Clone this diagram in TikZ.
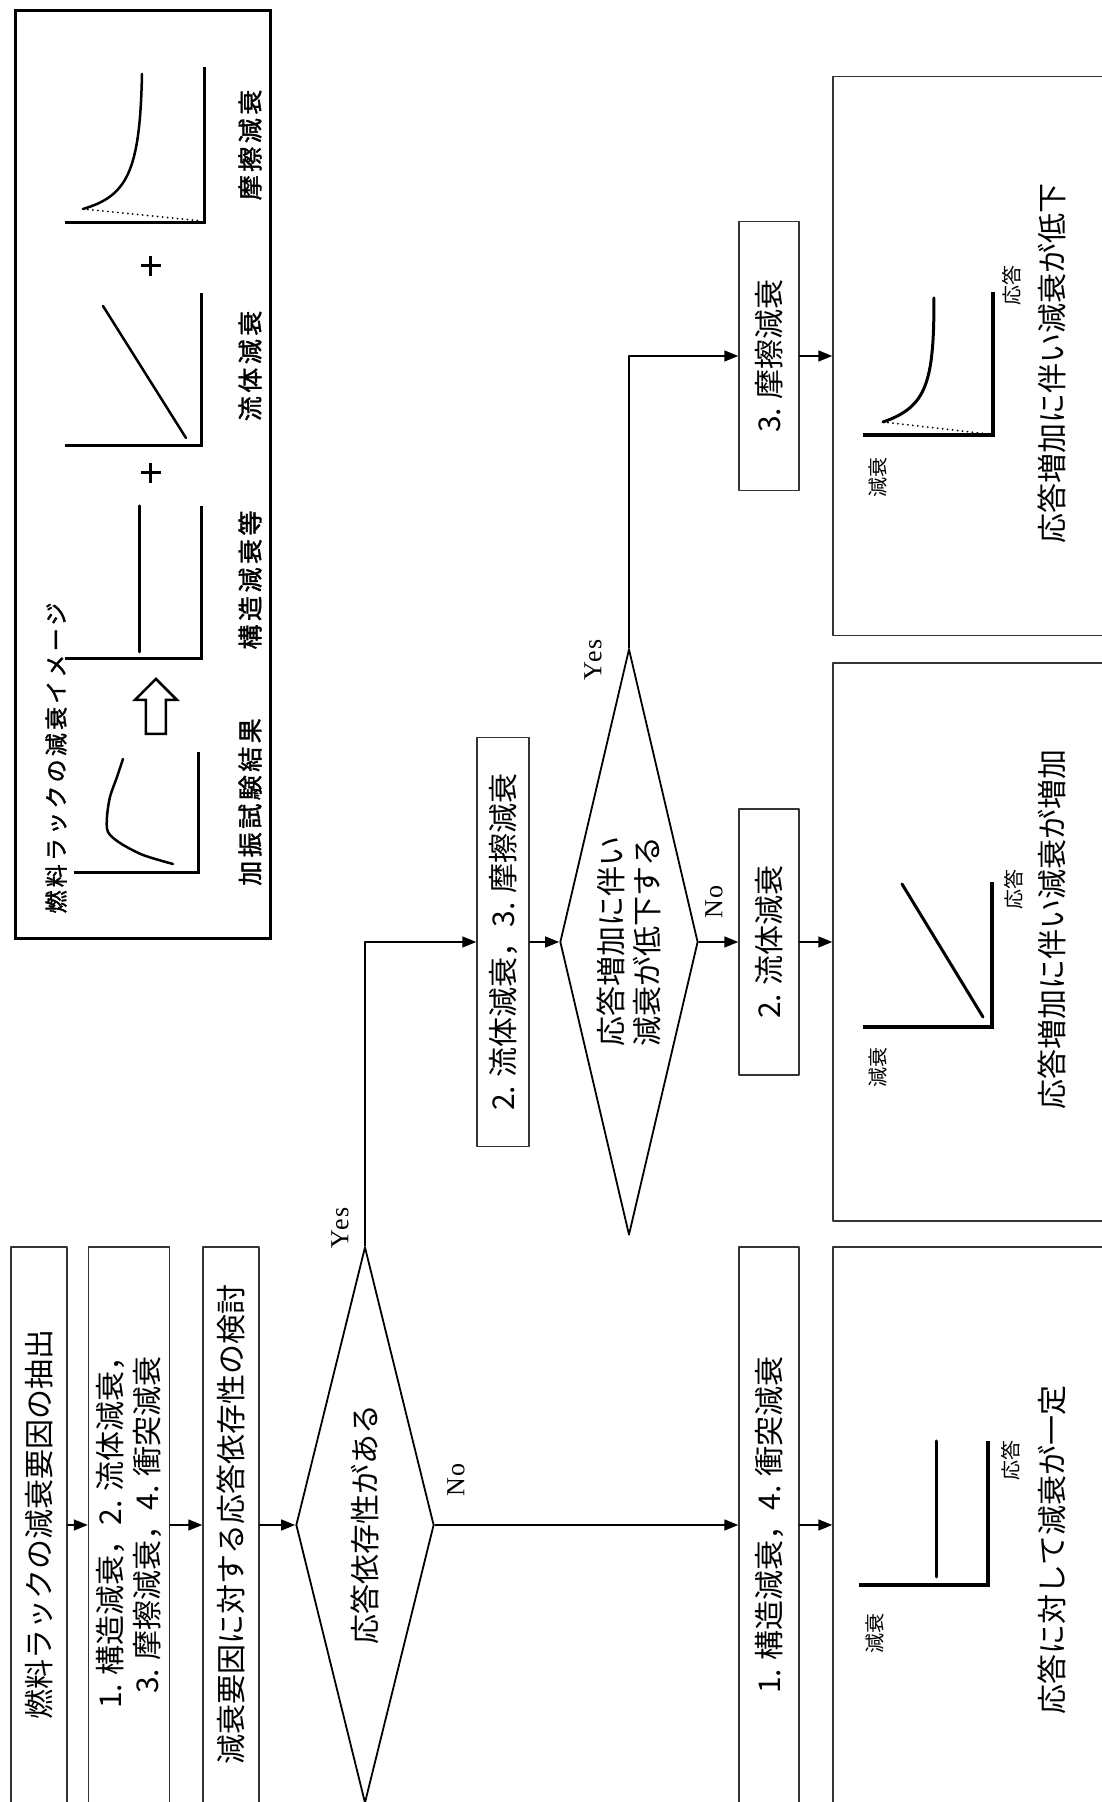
\documentclass[tikz,border=0pt]{standalone}
\usepackage{fontspec}
\setmainfont{Noto Sans CJK JP}
\newfontfamily\gothic[LetterSpace=14, FakeBold=1.6]{Noto Sans CJK JP}
\newfontfamily\yesnofont[LetterSpace=8]{Liberation Serif}
\usetikzlibrary{shapes.geometric,arrows.meta}

\begin{document}
\begin{tikzpicture}[x=1pt, y=1pt, rotate=90, transform shape,
		line cap=round, line join=round, >={Triangle[length=14pt, width=11pt]},
		box/.style={draw=black!80, line width=1.4pt, rectangle, inner sep=0pt, align=center, font=\fontsize{30}{37}\selectfont},
		decision/.style={draw, line width=1.8pt, diamond, aspect=4, inner sep=0pt, align=center, font=\fontsize{30}{36}\selectfont},
		panel/.style={draw=black!80, line width=1.4pt, rectangle, inner sep=0pt},
		flow/.style={->, line width=1.5pt},
		yesno/.style={font=\yesnofont\fontsize{26}{26}\selectfont},
		axis/.style={line width=3.5pt, line cap=butt, line join=miter},
		curve/.style={line width=3pt},
		dots/.style={line width=2pt, dash pattern=on 0pt off 5pt},
		axislabel/.style={font=\fontsize{20}{20}\selectfont},
		caption/.style={font=\fontsize{30}{30}\selectfont},
		legendtext/.style={font=\gothic\fontsize{25}{25}\selectfont}]
	% Page window, drawn lying down and turned a quarter
	\def\pw{1802} \def\ph{1102}
	\useasboundingbox (0,0) rectangle (\pw,\ph);
	\clip (0,0) rectangle (\pw,\ph);
	
	% Column centres of the three rows
	\def\xa{277} \def\xb{860} \def\xc{1446}
	
	% First row: extraction and check
	\node[box, minimum width=556pt, minimum height=56pt] (extract) at (\xa,1063) {燃料ラックの減衰要因の抽出};
	\node[box, minimum width=556pt, minimum height=81pt] (factors) at (\xa,973) {1. 構造減衰，2. 流体減衰，\\3. 摩擦減衰，4. 衝突減衰};
	\node[box, minimum width=556pt, minimum height=56pt] (study) at (\xa,871) {減衰要因に対する応答依存性の検討};
	\node[decision, minimum width=556pt, minimum height=138pt] (dep) at (\xa,737) {応答依存性がある};
	\node[box, minimum width=556pt, minimum height=60pt] (sc) at (\xa,333) {1. 構造減衰，4. 衝突減衰};
	\node[panel, minimum width=556pt, minimum height=282pt] (pconst) at (\xa,128) {};
	
	% Second row
	\node[box, minimum width=409pt, minimum height=52pt] (ff) at (\xb,599) {2. 流体減衰，3. 摩擦減衰};
	\node[decision, minimum width=586pt, minimum height=138pt] (dec) at (\xb,473) {応答増加に伴い\\減衰が低下する};
	\node[box, minimum width=266pt, minimum height=60pt] (fluid) at (\xb,333) {2. 流体減衰};
	\node[panel, minimum width=558pt, minimum height=282pt] (pfluid) at (\xb,128) {};
	
	% Third row
	\node[box, minimum width=269pt, minimum height=60pt] (fric) at (\xc,333) {3. 摩擦減衰};
	\node[panel, minimum width=559pt, minimum height=282pt] (pfric) at (\xc,128) {};
	
	% Connectors
	\draw[flow] (extract) -- (factors);
	\draw[flow] (factors) -- (study);
	\draw[flow] (study) -- (dep);
	\draw[flow] (dep.south) -- (sc.north);
	\draw[flow] (dep.east) -| (ff.north);
	\draw[flow] (ff) -- (dec);
	\draw[flow] (dec.south) -- (fluid.north);
	\draw[flow] (dec.east) -| (fric.north);
	\draw[flow] (sc) -- (pconst);
	\draw[flow] (fluid) -- (pfluid);
	\draw[flow] (fric) -- (pfric);
	
	% Yes / No labels
	\node[yesno] (yes1) at (574,762) {Yes};
	\node[yesno] (no1) at (322,646) {No};
	\node[yesno] (yes2) at (1142,509) {Yes};
	\node[yesno] (no2) at (900,388) {No};
	
	% Panel: damping constant
	\draw[axis] (217,243) -- (217,114) -- (361,114);
	\draw[curve] (225,165) -- (361,165);
	\node[axislabel] (dl1) at (168,227) {減衰};
	\node[axislabel] (rl1) at (341,91) {応答};
	\node[caption] (cap1) at (252,50) {応答に対して減衰が一定};
	
	% Panel: damping rises
	\draw[axis] (775,239) -- (775,110) -- (920,110);
	\draw[curve] (785,119) -- (918,200);
	\node[axislabel] (dl2) at (734,224) {減衰};
	\node[axislabel] (rl2) at (912,88) {応答};
	\node[caption] (cap2) at (872,50) {応答増加に伴い減衰が増加};
	
	% Panel: damping falls
	\draw[axis] (1367,239) -- (1367,109) -- (1510,109);
	\draw[curve] (1380,219) .. controls (1395,175) and (1420,168) .. (1504,168);
	\draw[dots] (1380,219) -- (1368,114);
	\node[axislabel] (dl3) at (1324,224) {減衰};
	\node[axislabel] (rl3) at (1516,90) {応答};
	\node[caption] (cap3) at (1438,50) {応答増加に伴い減衰が低下};
	
	% Legend frame and title
	\draw[line width=3pt, line join=miter] (863,831) rectangle (1791,1086);
	\node[legendtext, font=\gothic\fontsize{23}{23}\selectfont, anchor=west] (title) at (885,1046) {燃料ラックの減衰イメージ};
	
	% Test result
	\draw[axis, line width=3pt] (929,1028) -- (929,903) -- (1050,903);
	\draw[line width=2.5pt] plot[smooth] coordinates {(938,929) (947,959) (959,982) (970,994) (985,995) (1005,992) (1025,985) (1043,979)};
	\node[legendtext] (ltest) at (1000,852) {加振試験結果};
	\draw[line width=2.5pt, line join=miter] (1068,936) -- (1102,936) -- (1102,925) -- (1123,946) -- (1102,967) -- (1102,956) -- (1068,956) -- cycle;
	
	% Structural, fluid and friction parts
	\draw[axis, line width=3pt] (1143,1037) -- (1143,900) -- (1296,900);
	\draw[line width=3pt] (1150,962) -- (1296,962);
	\node[legendtext] (lstruct) at (1222,852) {構造減衰等};
	\draw[axis, line width=3pt] (1356,1037) -- (1356,900) -- (1509,900);
	\draw[line width=2.5pt] (1364,916) -- (1496,999);
	\node[legendtext] (lfluid) at (1436,852) {流体減衰};
	\draw[axis, line width=3pt] (1579,1037) -- (1579,897) -- (1735,897);
	\draw[line width=2.5pt] (1593,1019) .. controls (1606,975) and (1630,962) .. (1728,960);
	\draw[dots] (1593,1019) -- (1581,900);
	\node[legendtext] (lfric) at (1657,852) {摩擦減衰};
	
	% Plus signs
	\foreach \px in {1329,1536}
		\draw[line width=3pt, line cap=butt] (\px-10,951) -- (\px+10,951) (\px,941) -- (\px,961);
\end{tikzpicture}
\end{document}
